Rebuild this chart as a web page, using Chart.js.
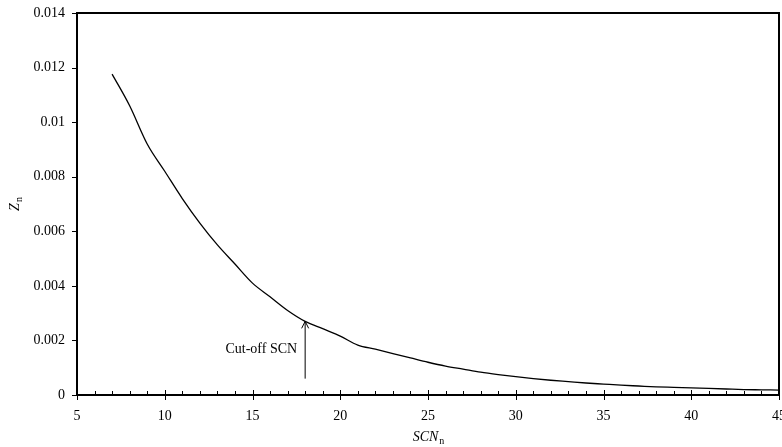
<!DOCTYPE html>
<html>
<head>
<meta charset="utf-8">
<script src="https://cdn.jsdelivr.net/npm/chart.js@4.4.1/dist/chart.umd.min.js"></script>
<style>
  html, body { margin: 0; padding: 0; background: #fff; }
  #wrap { width: 782px; height: 447px; position: relative; }
</style>
</head>
<body>
<div id="wrap"><canvas id="chart"></canvas></div>
<script>
// SCN number (x) and mole fraction Zn (y)
const scnValues = [7, 8, 9, 10, 11, 12, 13, 14, 15, 16, 17, 18, 19, 20, 21, 22, 23, 24, 25, 26,
  27, 28, 29, 30, 31, 32, 33, 34, 35, 36, 37, 38, 39, 40, 41, 42, 43, 44, 45];
const znValues = [0.01176, 0.0106, 0.0092, 0.0082, 0.0072, 0.0063, 0.0055, 0.0048, 0.0041, 0.0036,
  0.0031, 0.0027, 0.00243, 0.00216, 0.00183, 0.00168, 0.00152, 0.00136, 0.0012, 0.00106,
  0.00095, 0.00084, 0.00075, 0.00067, 0.0006, 0.00054, 0.00049, 0.00044, 0.0004, 0.00036,
  0.00033, 0.0003, 0.00028, 0.00026, 0.00024, 0.00022, 0.0002, 0.00019, 0.00018];

// axis ranges
const xMin = 5, xMax = 45, xMajor = 5;
const yMin = 0, yMax = 0.014, yStep = 0.002;

// cut-off arrow
const cutoffLabel = "Cut-off SCN";
const cutoffX = 18;
const cutoffFrom = 0.0006;
const cutoffTo = 0.0027;

const serif = "'Liberation Serif', 'Times New Roman', serif";

// Draws frame, ticks, titles and the cut-off arrow
const decorPlugin = {
  id: 'decor',
  afterDraw(chart) {
    const ctx = chart.ctx;
    const a = chart.chartArea;
    const xs = chart.scales.x, ys = chart.scales.y;
    ctx.save();
    ctx.strokeStyle = '#000';

    // x ticks: minor inside, major both sides
    ctx.lineWidth = 1;
    for (let v = xMin; v <= xMax; v++) {
      const px = Math.round(xs.getPixelForValue(v)) + 0.5;
      ctx.beginPath();
      if (v % xMajor === 0) {
        ctx.moveTo(px, a.bottom - 5);
        ctx.lineTo(px, a.bottom + 5);
      } else {
        ctx.moveTo(px, a.bottom - 4);
        ctx.lineTo(px, a.bottom);
      }
      ctx.stroke();
    }
    // y ticks: outward
    for (let v = yMin; v <= yMax + 1e-9; v += yStep) {
      const py = Math.round(ys.getPixelForValue(v)) + 0.5;
      ctx.beginPath();
      ctx.moveTo(a.left - 5, py);
      ctx.lineTo(a.left, py);
      ctx.stroke();
    }

    // frame
    ctx.lineWidth = 2;
    ctx.strokeRect(a.left, a.top, a.right - a.left, a.bottom - a.top);

    // arrow
    const ax = xs.getPixelForValue(cutoffX);
    const y0 = ys.getPixelForValue(cutoffFrom);
    const y1 = ys.getPixelForValue(cutoffTo);
    ctx.lineWidth = 1;
    ctx.beginPath();
    ctx.moveTo(ax, y0);
    ctx.lineTo(ax, y1);
    ctx.moveTo(ax - 3.5, y1 + 7);
    ctx.lineTo(ax, y1);
    ctx.lineTo(ax + 3.5, y1 + 7);
    ctx.stroke();

    ctx.fillStyle = '#000';
    ctx.font = '14px ' + serif;
    ctx.textAlign = 'right';
    ctx.textBaseline = 'middle';
    ctx.fillText(cutoffLabel, ax - 8, 349);

    // x title: SCN_n
    ctx.textBaseline = 'alphabetic';
    ctx.textAlign = 'left';
    ctx.font = 'italic 14px ' + serif;
    const main = 'SCN';
    const wMain = ctx.measureText(main).width;
    ctx.font = '10px ' + serif;
    const wSub = ctx.measureText('n').width;
    const cx = (a.left + a.right) / 2;
    let sx = cx - (wMain + wSub) / 2;
    ctx.font = 'italic 14px ' + serif;
    ctx.fillText(main, sx, 441);
    ctx.font = '10px ' + serif;
    ctx.fillText('n', sx + wMain + 1, 444);

    // y title: Z_n rotated
    ctx.translate(19, (a.top + a.bottom) / 2);
    ctx.rotate(-Math.PI / 2);
    ctx.font = 'italic 14px ' + serif;
    const wZ = ctx.measureText('Z').width;
    ctx.font = '10px ' + serif;
    const wn = ctx.measureText('n').width;
    const zx = -(wZ + wn + 1) / 2;
    ctx.font = 'italic 14px ' + serif;
    ctx.fillText('Z', zx, 0);
    ctx.font = '10px ' + serif;
    ctx.fillText('n', zx + wZ + 1, 3);
    ctx.restore();
  }
};

new Chart(document.getElementById('chart'), {
  type: 'line',
  data: {
    datasets: [{
      data: scnValues.map((x, i) => ({ x: x, y: znValues[i] })),
      borderColor: '#000',
      borderWidth: 1.3,
      pointRadius: 0,
      cubicInterpolationMode: 'monotone',
      fill: false
    }]
  },
  options: {
    responsive: true,
    maintainAspectRatio: false,
    animation: false,
    layout: { padding: { top: 13, right: 3, left: 0, bottom: 0 } },
    plugins: {
      legend: { display: false },
      tooltip: { enabled: false }
    },
    scales: {
      x: {
        type: 'linear',
        min: xMin,
        max: xMax,
        grid: { display: false, drawTicks: false },
        border: { display: false },
        ticks: {
          stepSize: xMajor,
          padding: 13,
          color: '#000',
          font: { family: serif, size: 14 },
          maxRotation: 0,
          autoSkip: false
        },
        afterFit(scale) {
          scale.height = 52;
          scale.paddingLeft = 0;
          scale.paddingRight = 0;
        }
      },
      y: {
        min: yMin,
        max: yMax,
        grid: { display: false, drawTicks: false },
        border: { display: false },
        ticks: {
          stepSize: yStep,
          padding: 12,
          color: '#000',
          font: { family: serif, size: 14 },
          callback: v => String(+v.toFixed(3))
        },
        afterFit(scale) {
          scale.width = 77;
          scale.paddingTop = 0;
          scale.paddingBottom = 0;
        }
      }
    }
  },
  plugins: [decorPlugin]
});
</script>
</body>
</html>
